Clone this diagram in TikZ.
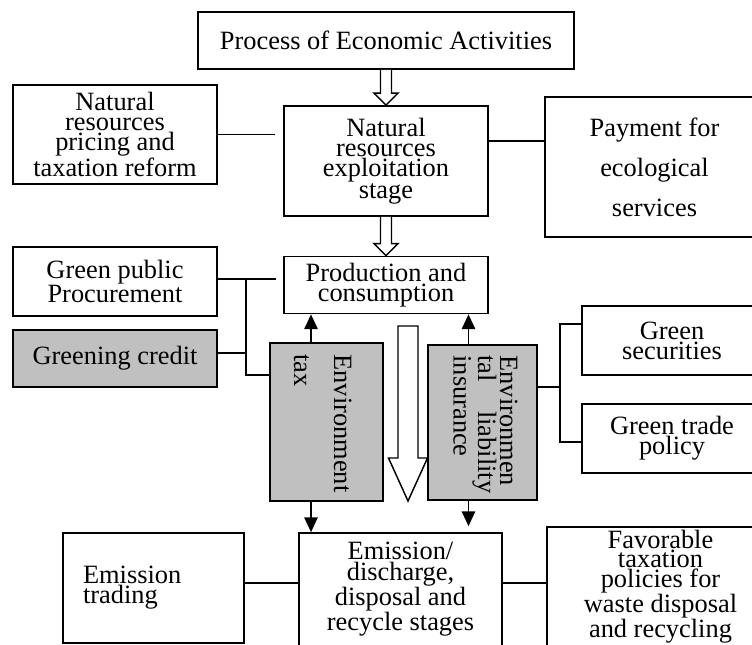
\documentclass[tikz,border=0pt]{standalone}
\usepackage{fontspec}
\setmainfont{Liberation Serif}
\usetikzlibrary{arrows.meta,calc}
\definecolor{boxgrey}{RGB}{192,192,192}

\tikzset{every picture/.style={line width=0.75pt}}
\tikzset{
	box/.style={draw, line width=1.3pt, align=center, inner sep=0pt, font=\fontsize{19.8}{15}\selectfont},
	greybox/.style={box, fill=boxgrey},
	boxsize/.style 2 args={minimum width=#1*0.75pt, minimum height=#2*0.75pt},
	vtext/.style={rotate=-90, anchor=north west, align=left, inner sep=0pt},
	link/.style={line width=1.1pt},
	uparrow/.style={link, -{Triangle[length=11pt,width=10pt]}},
	hollow/.style={line width=1.1pt, fill=white},
}

\begin{document}
\begin{tikzpicture}[x=0.75pt,y=0.75pt,yscale=-1,xscale=1]
		\useasboundingbox (0,0) rectangle (752,644);
		
		%Main column
		\node[box, boxsize={376}{57}] (econ) at (386,40.5) {Process of Economic Activities};
		\node[box, boxsize={204}{110}] (nres) at (386,161) {Natural\\resources\\exploitation\\stage};
		\node[box, boxsize={204}{57}] (prod) at (386,285) {Production and\\consumption};
		\node[box, boxsize={203}{113}, font=\fontsize{19.8}{15.2}\selectfont] (emis) at (400.5,589.5) {Emission/\\discharge,\\disposal and\\recycle stages};
		
		%Instruments, left
		\node[box, boxsize={204}{99}] (pricing) at (115,134.5) {Natural\\resources\\pricing and\\taxation reform};
		\node[box, boxsize={204}{69}] (procure) at (115,281.5) {Green public\\Procurement};
		\node[greybox, boxsize={204}{57}] (credit) at (115,358.5) {Greening credit};
		\node[box, boxsize={181}{110}, align=left, inner xsep=20*0.75pt, text width=141*0.75pt] (trading) at (153.5,588) {Emission\\trading};
		
		%Instruments, right
		\node[box, boxsize={219}{140}, font=\fontsize{19.8}{30}\selectfont] (payment) at (654.5,167) {Payment for\\ecological\\services};
		\node[box, boxsize={180}{69}] (securities) at (672,340.5) {Green\\securities};
		\node[box, boxsize={180}{69}] (trade) at (672,438.5) {Green trade\\policy};
		\node[box, boxsize={227}{119}, font=\fontsize{19.8}{14.6}\selectfont] (favor) at (660.5,586.5) {Favorable\\taxation\\policies for\\waste disposal\\and recycling};
		
		%Shaded middle boxes
		\node[greybox, boxsize={113}{158}] (envtax) at (326.5,422) {};
		\node[vtext, font=\fontsize{19.8}{30}\selectfont] (envtaxtxt) at (352,354) {Environment\\tax};
		\node[greybox, boxsize={109}{155}] (envins) at (482.5,422.5) {};
		\node[vtext, font=\fontsize{19.8}{16.5}\selectfont] (envinstxt) at (518,355) {Environmen\\tal\hspace{22pt}liability\\insurance};
		
		%Hollow arrows
		\draw[hollow] ($(econ.south)+(-5.5,0)$) -- ($(nres.north)+(-5.5,-12)$) -- ($(nres.north)+(-12,-12)$) -- (nres.north) -- ($(nres.north)+(12,-12)$) -- ($(nres.north)+(5.5,-12)$) -- ($(econ.south)+(5.5,0)$);
		\draw[hollow] ($(nres.south)+(-5.5,0)$) -- ($(prod.north)+(-5.5,-12)$) -- ($(prod.north)+(-12,-12)$) -- (prod.north) -- ($(prod.north)+(12,-12)$) -- ($(prod.north)+(5.5,-12)$) -- ($(nres.south)+(5.5,0)$);
		\coordinate (bigtop) at (408,326);
		\coordinate (bigtip) at (408,501);
		\draw[hollow] ($(bigtop)+(-10,0)$) -- ($(bigtip)+(-10,-43)$) -- ($(bigtip)+(-19.5,-43)$) -- (bigtip) -- ($(bigtip)+(19.5,-43)$) -- ($(bigtip)+(10,-43)$) -- ($(bigtop)+(10,0)$) -- cycle;
		
		%Arrows between shaded boxes and main column
		\coordinate (taxarr) at (311,0);
		\coordinate (insarr) at (468.5,0);
		\draw[uparrow] (taxarr |- envtax.north) -- (taxarr |- prod.south);
		\draw[uparrow] (insarr |- envins.north) -- (insarr |- prod.south);
		\draw[uparrow] (taxarr |- envtax.south) -- (taxarr |- emis.north);
		\draw[uparrow, shorten >=4.5pt] (insarr |- envins.south) -- (insarr |- emis.north);
		
		%Connectors, top
		\draw[link, shorten >=6pt] (pricing.east) -- (pricing.east -| nres.west);
		\coordinate (payin) at ($(payment.north west)+(0,45)$);
		\draw[link] (payin -| nres.east) -- (payin);
		
		%Connectors, left
		\coordinate (lbus) at (246,0);
		\coordinate (procout) at ($(procure.east)+(0,-2.5)$);
		\coordinate (creditout) at ($(credit.east)+(0,-5.5)$);
		\coordinate (taxin) at ($(envtax.north west)+(0,33)$);
		\draw[link, shorten >=5pt] (procout) -- (procout -| prod.west);
		\draw[link] (creditout) -- (creditout -| lbus);
		\draw[link] (procout -| lbus) -- (lbus |- taxin) -- (taxin);
		
		%Connectors, right
		\coordinate (rbus) at (560,0);
		\coordinate (insout) at ($(envins.north east)+(0,43)$);
		\coordinate (secin) at ($(securities.north west)+(0,19)$);
		\coordinate (tradein) at ($(trade.north west)+(0,39)$);
		\draw[link] (insout) -- (insout -| rbus);
		\draw[link] (secin) -- (rbus |- secin) -- (rbus |- tradein) -- (tradein);
		
		%Connectors, bottom
		\coordinate (tradingout) at ($(trading.east)+(0,-5)$);
		\coordinate (emisout) at ($(emis.east)+(0,-6.5)$);
		\draw[link] (tradingout) -- (tradingout -| emis.west);
		\draw[link] (emisout) -- (emisout -| favor.west);
		
	\end{tikzpicture}
\end{document}
